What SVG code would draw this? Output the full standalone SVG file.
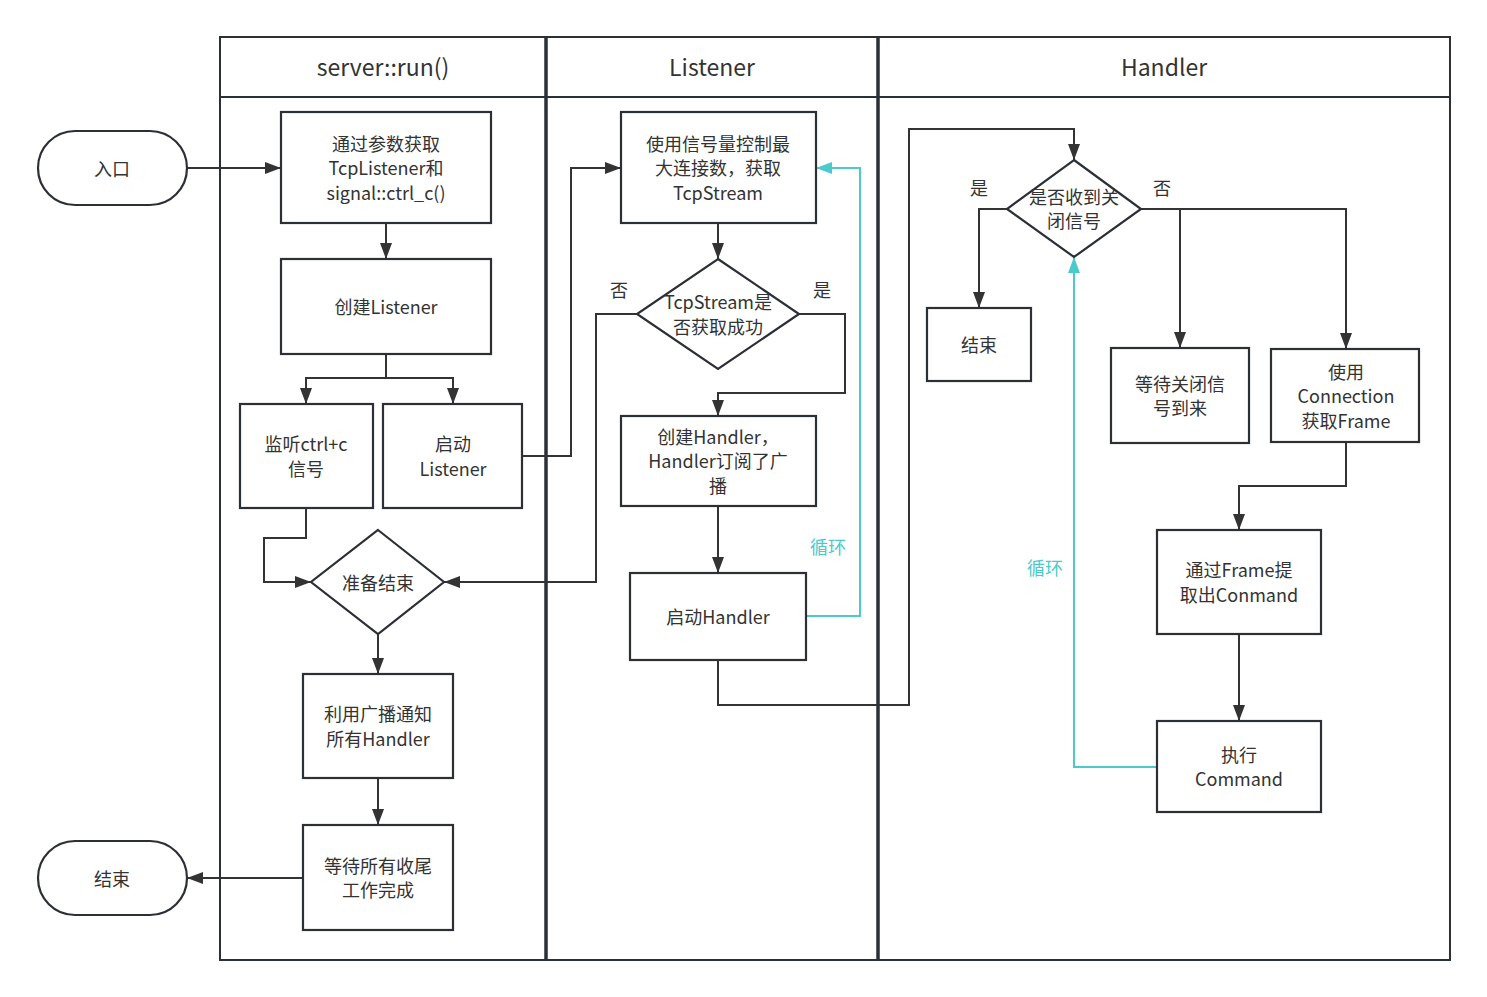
<svg xmlns="http://www.w3.org/2000/svg" width="1487" height="997" viewBox="0 0 1487 997">
<style>
text{font-family:"Noto Sans CJK SC","Liberation Sans",sans-serif;font-size:18px;fill:#333;text-anchor:middle}
.h{font-size:23px}
.t{fill:#4cc9cc}
.box{fill:#fff;stroke:#2b2f36;stroke-width:2.2}
.lane{fill:none;stroke:#2b2f36;stroke-width:2}
.div{stroke:#2b2f36;stroke-width:3.5}
.c{fill:none;stroke:#333;stroke-width:2}
.ct{fill:none;stroke:#4cc9cc;stroke-width:2}
</style>
<defs>
<marker id="a" viewBox="0 0 16 12" markerWidth="16" markerHeight="12" refX="16" refY="6" orient="auto" markerUnits="userSpaceOnUse"><path d="M0,0 L16,6 L0,12 z" fill="#333"/></marker>
<marker id="at" viewBox="0 0 16 12" markerWidth="16" markerHeight="12" refX="16" refY="6" orient="auto" markerUnits="userSpaceOnUse"><path d="M0,0 L16,6 L0,12 z" fill="#4cc9cc"/></marker>
</defs>
<rect width="1487" height="997" fill="#fff"/>
<g id="lanes">
<rect class="lane" x="220" y="37" width="1230" height="923"/>
<line class="lane" x1="220" y1="97" x2="1450" y2="97"/>
<line class="div" x1="546" y1="37" x2="546" y2="960"/>
<line class="div" x1="878" y1="37" x2="878" y2="960"/>
<text class="h" x="383" y="76">server::run()</text>
<text class="h" x="712" y="76">Listener</text>
<text class="h" x="1164" y="76">Handler</text>
</g>
<g id="connectors">
<path class="c" d="M187,168 H281" marker-end="url(#a)"/>
<path class="c" d="M386,223 V259" marker-end="url(#a)"/>
<path class="c" d="M386,354 V378 H306 V404" marker-end="url(#a)"/>
<path class="c" d="M386,378 H453 V404" marker-end="url(#a)"/>
<path class="c" d="M306,508 V538 H264 V582 H311" marker-end="url(#a)"/>
<path class="c" d="M522,456 H571 V168 H621" marker-end="url(#a)"/>
<path class="c" d="M718,223 V259" marker-end="url(#a)"/>
<path class="c" d="M637,314 H596 V582 H444" marker-end="url(#a)"/>
<path class="c" d="M799,314 H845 V393 H718 V416" marker-end="url(#a)"/>
<path class="c" d="M718,506 V573" marker-end="url(#a)"/>
<path class="ct" d="M806,616 H860 V168 H816" marker-end="url(#at)"/>
<path class="c" d="M718,660 V705 H909 V129 H1074 V160" marker-end="url(#a)"/>
<path class="c" d="M378,634 V674" marker-end="url(#a)"/>
<path class="c" d="M378,778 V825" marker-end="url(#a)"/>
<path class="c" d="M303,878 H187" marker-end="url(#a)"/>
<path class="c" d="M1007,209 H979 V308" marker-end="url(#a)"/>
<path class="c" d="M1141,209 H1346 V349" marker-end="url(#a)"/>
<path class="c" d="M1180,209 V348" marker-end="url(#a)"/>
<path class="c" d="M1346,442 V486 H1239 V530" marker-end="url(#a)"/>
<path class="c" d="M1239,634 V721" marker-end="url(#a)"/>
<path class="ct" d="M1157,767 H1074 V257" marker-end="url(#at)"/>
<text x="619" y="297">否</text>
<text x="822" y="297">是</text>
<text class="t" x="828" y="554">循环</text>
<text x="979" y="195">是</text>
<text x="1162" y="195">否</text>
<text class="t" x="1045" y="575">循环</text>
</g>
<g id="entry"><rect class="box" x="38" y="131" width="149" height="74" rx="37"/><text x="112" y="176">入口</text></g>
<g id="end-left"><rect class="box" x="38" y="841" width="149" height="74" rx="37"/><text x="112" y="886">结束</text></g>
<g id="get-params"><rect class="box" x="281" y="112" width="210" height="111"/><text x="386" y="151">通过参数获取</text><text x="386" y="175">TcpListener和</text><text x="386" y="200">signal::ctrl_c()</text></g>
<g id="create-listener"><rect class="box" x="281" y="259" width="210" height="95"/><text x="386" y="314">创建Listener</text></g>
<g id="listen-ctrlc"><rect class="box" x="240" y="404" width="133" height="104"/><text x="306" y="451">监听ctrl+c</text><text x="306" y="476">信号</text></g>
<g id="start-listener"><rect class="box" x="383" y="404" width="139" height="104"/><text x="453" y="451">启动</text><text x="453" y="476">Listener</text></g>
<g id="prepare-end"><path class="box" d="M378,530 L444,582 L378,634 L311,582 Z"/><text x="378" y="590">准备结束</text></g>
<g id="notify"><rect class="box" x="303" y="674" width="150" height="104"/><text x="378" y="721">利用广播通知</text><text x="378" y="746">所有Handler</text></g>
<g id="wait-all"><rect class="box" x="303" y="825" width="150" height="105"/><text x="378" y="873">等待所有收尾</text><text x="378" y="897">工作完成</text></g>
<g id="semaphore"><rect class="box" x="621" y="112" width="195" height="111"/><text x="718" y="151">使用信号量控制最</text><text x="718" y="175">大连接数，获取</text><text x="718" y="200">TcpStream</text></g>
<g id="tcp-ok"><path class="box" d="M718,259 L799,314 L718,369 L637,314 Z"/><text x="718" y="309">TcpStream是</text><text x="718" y="334">否获取成功</text></g>
<g id="create-handler"><rect class="box" x="621" y="416" width="195" height="90"/><text x="718" y="444">创建Handler，</text><text x="718" y="468">Handler订阅了广</text><text x="718" y="493">播</text></g>
<g id="start-handler"><rect class="box" x="630" y="573" width="176" height="87"/><text x="718" y="624">启动Handler</text></g>
<g id="shutdown-q"><path class="box" d="M1074,160 L1141,209 L1074,257 L1007,209 Z"/><text x="1074" y="204">是否收到关</text><text x="1074" y="228">闭信号</text></g>
<g id="end-handler"><rect class="box" x="927" y="308" width="104" height="73"/><text x="979" y="352">结束</text></g>
<g id="wait-shutdown"><rect class="box" x="1111" y="348" width="138" height="95"/><text x="1180" y="391">等待关闭信</text><text x="1180" y="415">号到来</text></g>
<g id="read-frame"><rect class="box" x="1271" y="349" width="148" height="93"/><text x="1346" y="379">使用</text><text x="1346" y="403">Connection</text><text x="1346" y="428">获取Frame</text></g>
<g id="parse-cmd"><rect class="box" x="1157" y="530" width="164" height="104"/><text x="1239" y="577">通过Frame提</text><text x="1239" y="602">取出Conmand</text></g>
<g id="exec-cmd"><rect class="box" x="1157" y="721" width="164" height="91"/><text x="1239" y="762">执行</text><text x="1239" y="786">Command</text></g>
</svg>
